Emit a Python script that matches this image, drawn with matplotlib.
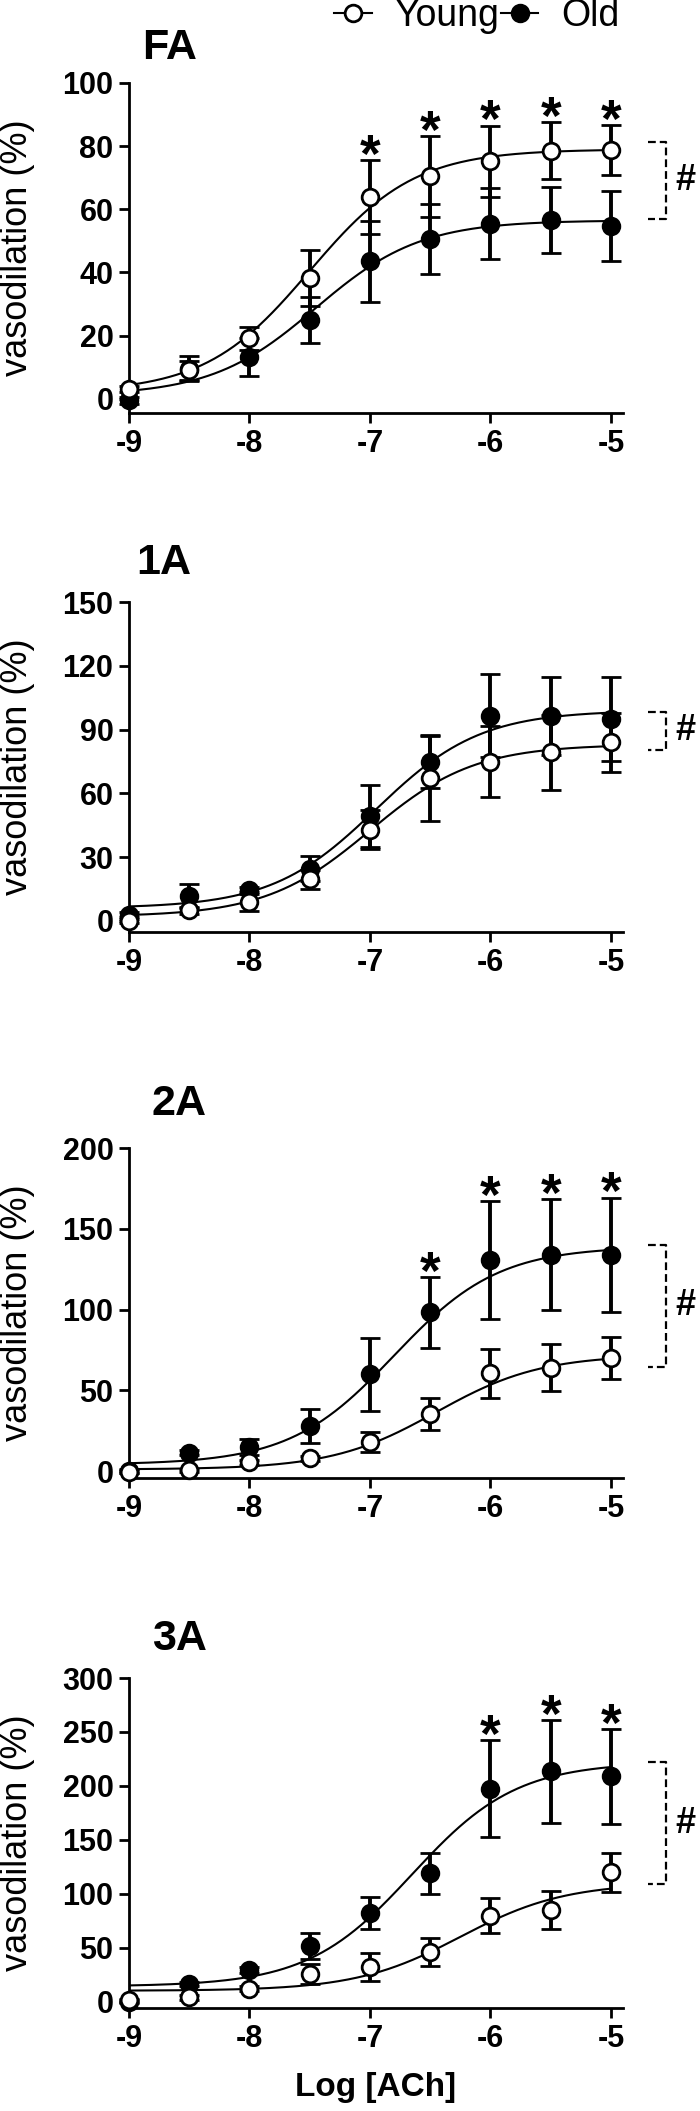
import numpy as np
import matplotlib
matplotlib.use("Agg")
import matplotlib.pyplot as plt
from matplotlib.lines import Line2D

plt.rcParams['font.family'] = ['Liberation Sans', 'DejaVu Sans']
plt.rcParams['axes.unicode_minus'] = False

# ---------------- data ----------------
log_ach = [-9, -8.5, -8, -7.5, -7, -6.5, -6, -5.5, -5]
panels = ["FA", "1A", "2A", "3A"]

# FA
fa_young = [3.2, 9.0, 19.1, 38.2, 64.0, 70.4, 75.2, 78.6, 78.8]
fa_young_sem = [1.0, 3.0, 3.7, 8.8, 11.7, 12.7, 11.3, 9.0, 7.9]
fa_old = [-0.5, 9.5, 13.3, 25.0, 43.5, 50.6, 55.5, 56.6, 54.7]
fa_old_sem = [1.0, 4.0, 6.0, 7.2, 12.7, 11.1, 11.2, 10.4, 11.0]

# 1A
a1_young = [0.0, 5.0, 9.0, 19.5, 43.0, 67.1, 74.9, 79.3, 84.0]
a1_young_sem = [1.0, 1.5, 4.5, 4.3, 9.0, 20.0, 16.7, 17.5, 13.8]
a1_old = [3.0, 11.7, 14.4, 24.6, 49.3, 74.9, 96.5, 96.2, 95.0]
a1_old_sem = [1.0, 5.8, 1.5, 6.0, 14.4, 12.5, 19.5, 18.3, 19.8]

# 2A
a2_young = [-0.5, 0.4, 5.5, 8.0, 17.8, 35.2, 60.4, 63.9, 70.0]
a2_young_sem = [1.0, 1.0, 1.5, 1.5, 6.2, 10.0, 15.0, 14.5, 13.3]
a2_old = [0.0, 11.3, 14.7, 28.0, 59.8, 98.3, 130.8, 134.0, 134.0]
a2_old_sem = [1.0, 1.5, 5.0, 10.5, 22.5, 22.0, 36.5, 34.5, 35.3]

# 3A
a3_young = [1.0, 3.8, 12.0, 25.6, 31.8, 46.0, 79.6, 84.7, 119.9]
a3_young_sem = [1.0, 2.0, 2.0, 9.0, 13.0, 13.0, 16.5, 17.5, 18.0]
a3_old = [0.0, 16.4, 29.0, 51.6, 82.0, 118.9, 197.5, 213.5, 208.7]
a3_old_sem = [1.0, 2.0, 3.0, 12.0, 14.5, 19.0, 45.0, 47.5, 44.0]

# fitted sigmoid parameters (bottom, top, logEC50, hill)
fit_young = [(2.0, 79.0, -7.5, 1.0), (2.0, 83.0, -7.0, 1.0),
             (1.0, 72.0, -6.45, 1.0), (10.0, 110.0, -6.25, 1.0)]
fit_old = [(1.0, 56.5, -7.45, 1.0), (6.0, 99.0, -6.95, 1.0),
           (4.0, 139.0, -6.8, 1.0), (14.0, 222.0, -6.65, 1.0)]

# significance
star_idx = [[4, 5, 6, 7, 8], [], [5, 6, 7, 8], [6, 7, 8]]
star_on_old = [False, False, True, True]
bracket_top = [81.3, 98.4, 140.0, 222.0]
bracket_bottom = [56.8, 80.6, 64.6, 109.0]

y_ticks = [[0, 20, 40, 60, 80, 100], [0, 30, 60, 90, 120, 150],
           [0, 50, 100, 150, 200], [0, 50, 100, 150, 200, 250, 300]]
y_lims = [(-4.5, 100), (-5.2, 150), (-4.3, 200), (-6.0, 300)]
x_ticks = [-9, -8, -7, -6, -5]

young_sets = [(fa_young, fa_young_sem), (a1_young, a1_young_sem),
              (a2_young, a2_young_sem), (a3_young, a3_young_sem)]
old_sets = [(fa_old, fa_old_sem), (a1_old, a1_old_sem),
            (a2_old, a2_old_sem), (a3_old, a3_old_sem)]

# ---------------- figure ----------------
W, H = 700, 2111
fig = plt.figure(figsize=(W / 100, H / 100), dpi=100)

ax_left = 129 / W
ax_w = 494 / W
ax_h = 330 / H
bottoms_px = [413, 932, 1478, 2008]
title_y = [1.106, 1.117, 1.133, 1.118]
title_x = [0.026, 0.014, 0.046, 0.046]


def hill(x, b, t, ec, h):
    return b + (t - b) / (1 + 10 ** ((ec - x) * h))


xx = np.linspace(-9, -5, 300)
lw_err = 2.8
for i, name in enumerate(panels):
    ax = fig.add_axes([ax_left, (H - bottoms_px[i]) / H, ax_w, ax_h])
    yo, yo_s = old_sets[i]
    yy, yy_s = young_sets[i]

    ax.plot(xx, hill(xx, *fit_old[i]), color='k', lw=1.5, zorder=2)
    ax.plot(xx, hill(xx, *fit_young[i]), color='k', lw=1.5, zorder=2)

    ax.errorbar(log_ach, yo, yerr=yo_s, fmt='o', ms=12, mfc='k', mec='k', mew=2,
                ecolor='k', elinewidth=lw_err, capsize=7, capthick=lw_err,
                clip_on=False, zorder=3)
    ax.errorbar(log_ach, yy, yerr=yy_s, fmt='o', ms=12, mfc='white', mec='k', mew=2,
                ecolor='k', elinewidth=lw_err, capsize=7, capthick=lw_err,
                clip_on=False, zorder=4)

    # stars
    src_m, src_s = (yo, yo_s) if star_on_old[i] else (yy, yy_s)
    for k in star_idx[i]:
        ax.annotate('*', xy=(log_ach[k], src_m[k] + src_s[k]), xytext=(0, -8.5),
                    textcoords='offset points', ha='center', va='baseline',
                    fontsize=38, fontweight='bold', annotation_clip=False)

    # bracket
    xb0, xb1 = -4.69, -4.54
    ax.plot([xb0, xb1, xb1, xb0],
            [bracket_top[i], bracket_top[i], bracket_bottom[i], bracket_bottom[i]],
            color='k', lw=1.6, linestyle=(0, (3.5, 1.8)), clip_on=False)
    ax.text(-4.385, (bracket_top[i] + bracket_bottom[i]) / 2, '#', ha='center',
            va='center', fontsize=26, fontweight='bold', clip_on=False)

    ax.set_xlim(-9, -4.9)
    ax.set_ylim(*y_lims[i])
    ax.set_xticks(x_ticks)
    ax.set_xticklabels([str(t) for t in x_ticks])
    ax.set_yticks(y_ticks[i])
    ax.spines['top'].set_visible(False)
    ax.spines['right'].set_visible(False)
    ax.spines['left'].set_bounds(y_lims[i][0], y_ticks[i][-1])
    for s in ['left', 'bottom']:
        ax.spines[s].set_linewidth(2)
    ax.tick_params(axis='both', length=7.2, width=2, labelsize=22, direction='out')
    ax.tick_params(axis='y', pad=4)
    ax.tick_params(axis='x', pad=4)
    for lab in ax.get_xticklabels() + ax.get_yticklabels():
        lab.set_fontweight('bold')

    ax.set_ylabel('vasodilation (%)', fontsize=26)
    ax.yaxis.set_label_coords(-0.19, 0.5)

    ax.text(title_x[i], title_y[i], name, transform=ax.transAxes,
            ha='left', va='center', fontsize=31, fontweight='bold')

    if i == 3:
        ax.set_xlabel('Log [ACh]', fontsize=24, fontweight='bold', labelpad=13)

handles = [Line2D([], [], color='k', lw=1.5, marker='o', ms=12, mfc='white', mec='k', mew=2),
           Line2D([], [], color='k', lw=1.5, marker='o', ms=12, mfc='k', mec='k', mew=2)]
fig.legend(handles, ['Young', 'Old'], loc='center', bbox_to_anchor=(0.681, 1 - 16 / H),
           ncol=2, frameon=False, fontsize=27, handlelength=1.0, handletextpad=0.6,
           columnspacing=0.05, borderpad=0, borderaxespad=0)

fig.savefig('out.png', dpi=100)
